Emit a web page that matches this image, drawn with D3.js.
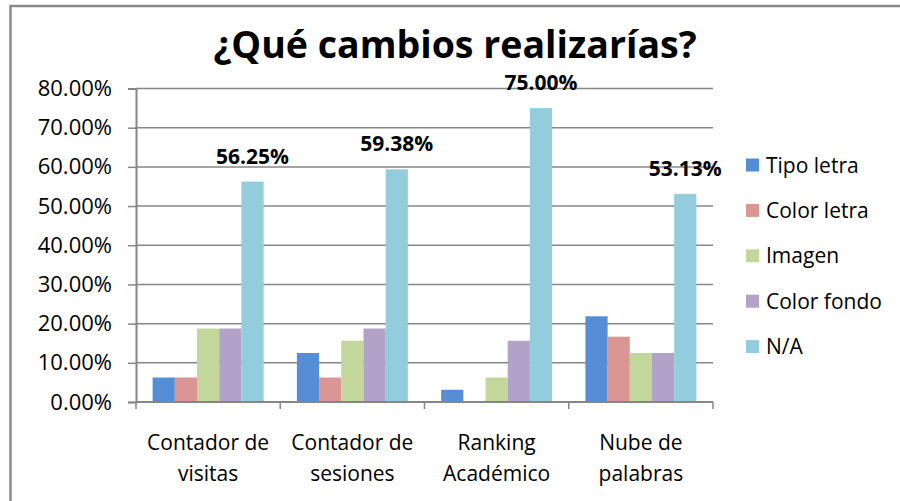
<!DOCTYPE html>
<html>
<head>
<meta charset="utf-8">
<script src="https://cdn.jsdelivr.net/npm/d3@7"></script>
<style>
  body { margin: 0; background: #fff; }
  text { font-family: "Open Sans", sans-serif; fill: #000; }
</style>
</head>
<body>
<div id="chart"></div>
<script>
// categories and series
var categories = [["Contador de", "visitas"], ["Contador de", "sesiones"], ["Ranking", "Académico"], ["Nube de", "palabras"]];
var series = ["Tipo letra", "Color letra", "Imagen", "Color fondo", "N/A"];
var colors = ["#558ed5", "#d99694", "#c3d69b", "#b3a2c7", "#93cddd"];

var tipoLetra  = [0.0625, 0.125, 0.03125, 0.21875];
var colorLetra = [0.0625, 0.0625, 0, 0.1667];
var imagen     = [0.1875, 0.15625, 0.0625, 0.125];
var colorFondo = [0.1875, 0.1875, 0.15625, 0.125];
var na         = [0.5625, 0.59375, 0.75, 0.53125];

var yTicks = [0, 0.1, 0.2, 0.3, 0.4, 0.5, 0.6, 0.7, 0.8];

var values = [tipoLetra, colorLetra, imagen, colorFondo, na];

var width = 900, height = 501;
var svg = d3.select("#chart").append("svg")
  .attr("width", width)
  .attr("height", height);

// chart border (only left and top are inside the picture)
svg.append("path")
  .attr("d", "M10.5,501 L10.5,6 L900,6")
  .attr("fill", "none")
  .attr("stroke", "#8a8a8a")
  .attr("stroke-width", 2.5);

var plot = {left: 136, right: 713, top: 88.5, bottom: 402};

var x0 = d3.scaleBand()
  .domain(d3.range(categories.length))
  .range([plot.left, plot.right]);

var step = x0.bandwidth();
var x1 = d3.scaleBand()
  .domain(d3.range(series.length))
  .range([step * 0.75 / 6.5, step - step * 0.75 / 6.5]);

var y = d3.scaleLinear()
  .domain([0, 0.8])
  .range([plot.bottom, plot.top]);

// gridlines
svg.append("g")
  .selectAll("line")
  .data(yTicks.slice(1))
  .enter()
  .append("line")
    .attr("x1", plot.left)
    .attr("x2", plot.right)
    .attr("y1", function(d) { return y(d); })
    .attr("y2", function(d) { return y(d); })
    .attr("stroke", "#868686")
    .attr("stroke-width", 1.5);

// bars
var groups = svg.append("g")
  .selectAll("g")
  .data(values)
  .enter()
  .append("g")
    .attr("fill", function(d, i) { return colors[i]; });

groups.each(function(vals, s) {
  d3.select(this).selectAll("rect")
    .data(vals)
    .enter()
    .append("rect")
      .attr("x", function(d, c) { return x0(c) + x1(s); })
      .attr("y", function(d) { return y(d); })
      .attr("width", x1.bandwidth())
      .attr("height", function(d) { return y(0) - y(d); });
});

// y axis
var yAxis = svg.append("g")
  .attr("transform", "translate(" + plot.left + ",0)")
  .call(d3.axisLeft(y).tickValues(yTicks).tickSize(8).tickPadding(16)
    .tickFormat(function(d) { return (d * 100).toFixed(2) + "%"; }));
yAxis.select(".domain").attr("stroke", "#868686").attr("stroke-width", 2);
yAxis.selectAll(".tick line").attr("stroke", "#868686").attr("stroke-width", 1.5);
yAxis.selectAll(".tick text")
  .style("font-size", "22px")
  .style("font-family", "'Open Sans', sans-serif")
  .attr("fill", "#000");

// x axis: ticks at category boundaries
var xBase = svg.append("g");
xBase.append("line")
  .attr("x1", plot.left).attr("x2", plot.right)
  .attr("y1", y(0)).attr("y2", y(0))
  .attr("stroke", "#868686").attr("stroke-width", 2);
xBase.selectAll(".xt")
  .data(d3.range(categories.length + 1))
  .enter()
  .append("line")
    .attr("x1", function(d) { return plot.left + d * step; })
    .attr("x2", function(d) { return plot.left + d * step; })
    .attr("y1", y(0))
    .attr("y2", y(0) + 7)
    .attr("stroke", "#868686")
    .attr("stroke-width", 1.5);

var xLabels = svg.append("g")
  .selectAll("text")
  .data(categories)
  .enter()
  .append("text")
    .attr("text-anchor", "middle")
    .attr("x", function(d, i) { return x0(i) + step / 2; })
    .attr("y", 450)
    .style("font-size", "21px");
xLabels.selectAll("tspan")
  .data(function(d) { return d; })
  .enter()
  .append("tspan")
    .attr("x", function() { return d3.select(this.parentNode).attr("x"); })
    .attr("dy", function(d, i) { return i ? 31 : 0; })
    .text(function(d) { return d; });

// data labels on the N/A series
svg.append("g")
  .selectAll("text")
  .data(na)
  .enter()
  .append("text")
    .attr("text-anchor", "middle")
    .attr("x", function(d, c) { return x0(c) + x1(4) + x1.bandwidth() / 2; })
    .attr("y", function(d) { return y(d) - 18; })
    .style("font-size", "21px")
    .style("font-weight", "bold")
    .text(function(d) { return (d * 100).toFixed(2) + "%"; });

// title
svg.append("text")
  .attr("text-anchor", "middle")
  .attr("x", 455)
  .attr("y", 58)
  .style("font-size", "37.5px")
  .style("font-weight", "bold")
  .text("¿Qué cambios realizarías?");

// legend
var legend = svg.append("g")
  .selectAll("g")
  .data(series)
  .enter()
  .append("g")
    .attr("transform", function(d, i) { return "translate(746," + (165 + i * 45.4) + ")"; });

legend.append("rect")
  .attr("x", 0)
  .attr("y", -6.5)
  .attr("width", 13)
  .attr("height", 13)
  .attr("fill", function(d, i) { return colors[i]; });

legend.append("text")
  .attr("x", 20)
  .attr("dy", "0.36em")
  .style("font-size", "21px")
  .text(function(d) { return d; });
</script>
</body>
</html>
